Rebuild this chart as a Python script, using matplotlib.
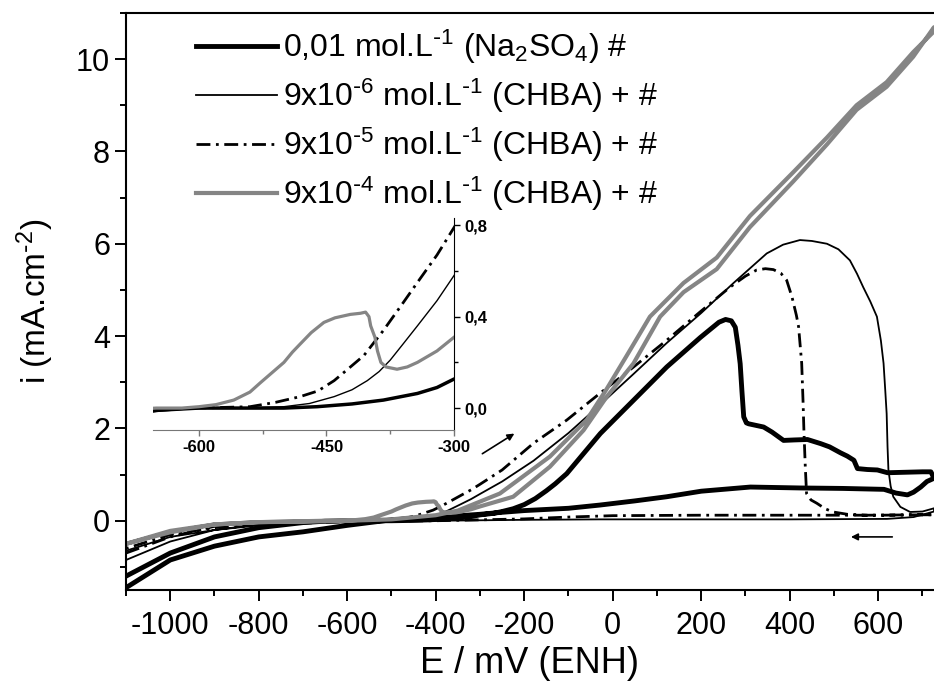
import numpy as np
import matplotlib
matplotlib.use("Agg")
import matplotlib.pyplot as plt
from matplotlib.ticker import MultipleLocator, FixedLocator

plt.rcParams['font.family'] = ['Liberation Sans', 'DejaVu Sans']
plt.rcParams['mathtext.default'] = 'regular'
plt.rcParams['axes.unicode_minus'] = False

# Na2SO4 0,01 mol/L (thick black)
e_na_fwd = [-1100, -1000, -900, -800, -700, -650, -600, -500, -461, -420, -383, -343, -320, -300, -270, -250, -225,
            -200, -175, -150, -130, -104, -28, 47, 122, 198, 240, 255, 268, 277, 283, 288, 292, 296, 302, 307, 341,
            360, 386, 410, 440, 470, 490, 515, 530, 545, 553, 575, 598, 621, 660, 700, 719, 726]
i_na_fwd = [-1.2, -0.7, -0.35, -0.15, -0.04, -0.01, 0.0, 0.0, 0.006, 0.018, 0.035, 0.064, 0.09, 0.127, 0.16, 0.2,
            0.26, 0.35, 0.48, 0.65, 0.8, 1.02, 1.89, 2.61, 3.33, 3.97, 4.3, 4.36, 4.33, 4.19, 3.8, 3.4, 2.8, 2.25,
            2.12, 2.1, 2.03, 1.92, 1.74, 1.75, 1.76, 1.67, 1.6, 1.47, 1.4, 1.31, 1.13, 1.11, 1.10, 1.04, 1.05, 1.06,
            1.06, 0.92]
e_na_rev = [726, 710, 696, 680, 666, 640, 613, 520, 424, 311, 200, 122, 50, -29, -100, -200, -254, -300, -390,
            -500, -600, -700, -800, -900, -1000, -1100]
i_na_rev = [0.92, 0.85, 0.73, 0.62, 0.56, 0.6, 0.68, 0.7, 0.71, 0.73, 0.64, 0.52, 0.43, 0.34, 0.27, 0.22, 0.18, 0.14,
            0.08, 0.02, -0.1, -0.24, -0.35, -0.55, -0.85, -1.45]

# CHBA 9x10^-6 (thin black)
e_6_fwd = [-1100, -1000, -900, -800, -700, -600, -550, -500, -470, -441, -420, -402, -388, -375, -360, -343, -320,
           -300, -250, -179, -100, -30, 47, 122, 200, 273, 348, 385, 423, 450, 484, 510, 536, 552, 566, 582, 597,
           606, 612, 616, 619, 621, 623, 628, 634, 650, 672, 700, 726]
i_6_fwd = [-0.85, -0.45, -0.2, -0.08, -0.03, 0.0, 0.0, 0.006, 0.02, 0.05, 0.08, 0.12, 0.16, 0.21, 0.28, 0.36, 0.47,
           0.58, 0.85, 1.3, 1.9, 2.5, 3.18, 3.85, 4.5, 5.15, 5.79, 5.98, 6.08, 6.06, 6.0, 5.88, 5.64, 5.35, 5.06,
           4.75, 4.42, 3.9, 3.41, 2.8, 2.32, 1.6, 1.10, 0.75, 0.52, 0.30, 0.19, 0.2, 0.27]
e_6_rev = [726, 680, 620, 400, 200, -29, -200, -400, -600, -800, -900, -1000, -1100]
i_6_rev = [0.2, 0.08, 0.04, 0.03, 0.03, 0.03, 0.02, 0.0, -0.02, -0.1, -0.2, -0.35, -0.65]

# CHBA 9x10^-5 (dash-dot)
e_5_fwd = [-1100, -1000, -900, -800, -700, -600, -540, -510, -481, -460, -441, -425, -406, -383, -360, -343, -320,
           -300, -250, -179, -104, -29, 47, 122, 197, 265, 300, 325, 345, 363, 380, 393, 405, 415, 420, 427, 430,
           432, 435, 438, 448, 461, 480, 498, 530, 574, 726]
i_5_fwd = [-0.7, -0.35, -0.12, -0.04, -0.01, 0.0, 0.006, 0.025, 0.05, 0.075, 0.12, 0.17, 0.23, 0.34, 0.46, 0.55,
           0.67, 0.79, 1.1, 1.68, 2.18, 2.76, 3.33, 3.91, 4.52, 5.06, 5.3, 5.43, 5.46, 5.44, 5.36, 5.21, 4.85, 4.45,
           4.2, 3.41, 2.6, 1.96, 1.2, 0.59, 0.45, 0.38, 0.26, 0.19, 0.14, 0.12, 0.13]
e_5_rev = [726, 600, 400, 200, 0, -100, -200, -300, -400, -600, -800, -900, -1000, -1100]
i_5_rev = [0.13, 0.12, 0.12, 0.12, 0.11, 0.08, 0.04, 0.02, 0.0, -0.02, -0.08, -0.15, -0.3, -0.6]

# CHBA 9x10^-4 (grey)
e_4_fwd = [-1100, -1000, -900, -800, -700, -650, -620, -600, -580, -559, -540, -528, -514, -500, -490, -481, -468,
           -453, -440, -422, -410, -404, -400, -398, -393, -390, -386, -380, -367, -355, -343, -320, -300, -225,
           -142, -66, -14, 47, 107, 160, 235, 310, 408, 484, 551, 619, 679, 726]
i_4_fwd = [-0.5, -0.25, -0.08, -0.03, -0.01, 0.0, 0.0, 0.006, 0.015, 0.035, 0.07, 0.11, 0.155, 0.2, 0.245, 0.28,
           0.33, 0.375, 0.395, 0.41, 0.415, 0.42, 0.40, 0.36, 0.31, 0.25, 0.2, 0.18, 0.17, 0.18, 0.2, 0.25, 0.31,
           0.52, 1.17, 1.96, 2.68, 3.41, 4.42, 4.95, 5.45, 6.36, 7.35, 8.15, 8.9, 9.4, 10.05, 10.69]
e_4_rev = [726, 679, 619, 551, 484, 408, 310, 235, 160, 84, 30, -14, -59, -142, -255, -350, -400, -500, -600, -700,
           -800, -900, -1000, -1100]
i_4_rev = [10.6, 10.15, 9.5, 9.0, 8.3, 7.55, 6.6, 5.7, 5.15, 4.42, 3.55, 2.85, 2.18, 1.39, 0.59, 0.22, 0.12, 0.03,
           0.0, -0.02, -0.03, -0.08, -0.22, -0.5]

labels = ['0,01 mol.L$^{\\text{-}1}$ (Na$_2$SO$_4$) #',
          '9x10$^{\\text{-}6}$ mol.L$^{\\text{-}1}$ (CHBA) + #',
          '9x10$^{\\text{-}5}$ mol.L$^{\\text{-}1}$ (CHBA) + #',
          '9x10$^{\\text{-}4}$ mol.L$^{\\text{-}1}$ (CHBA) + #']

dashdot = (0, (5, 2, 1, 2))
grey = '#858585'

fig = plt.figure(figsize=(9.34, 6.85), dpi=100)
ax = fig.add_axes([126 / 934, 1 - 590 / 685, 1 - 126 / 934, (590 - 12.9) / 685])

ax.plot(e_na_fwd + e_na_rev, i_na_fwd + i_na_rev, color='black', lw=3.5, label=labels[0])
ax.plot(e_6_fwd + e_6_rev, i_6_fwd + i_6_rev, color='black', lw=1.3, label=labels[1])
ax.plot(e_5_fwd + e_5_rev, i_5_fwd + i_5_rev, color='black', lw=2, ls=dashdot, label=labels[2])
ax.plot(e_4_fwd + e_4_rev, i_4_fwd + i_4_rev, color=grey, lw=3, label=labels[3])

ax.annotate('', xy=(-217, 1.92), xytext=(-300, 1.42),
            arrowprops=dict(arrowstyle='-|>', color='black', lw=1.2, mutation_scale=10))
ax.annotate('', xy=(532, -0.35), xytext=(638, -0.35),
            arrowprops=dict(arrowstyle='-|>', color='black', lw=1.2, mutation_scale=10))

ax.set_xlim(-1100, 726)
ax.set_ylim(-1.5, 11)
ax.xaxis.set_major_locator(FixedLocator(np.arange(-1000, 700, 200)))
ax.xaxis.set_minor_locator(MultipleLocator(100))
ax.yaxis.set_major_locator(FixedLocator(np.arange(0, 11, 2)))
ax.yaxis.set_minor_locator(MultipleLocator(1))
ax.tick_params(which='major', direction='out', length=8, width=1.4, labelsize=22)
ax.tick_params(which='minor', direction='out', length=4.5, width=1.4)
ax.tick_params(axis='x', which='major', pad=7)
for s in ['left', 'bottom', 'top']:
    ax.spines[s].set_linewidth(1.5)
ax.spines['right'].set_visible(False)
ax.set_xlabel('E / mV (ENH)', fontsize=26, labelpad=4)
ax.set_ylabel('i (mA.cm$^{\\text{-}2}$)', fontsize=24)
ax.yaxis.set_label_coords(-0.087, 0.5)

ax.legend(loc='upper left', bbox_to_anchor=(196 / 934, 1 - 28 / 685), bbox_transform=fig.transFigure,
          frameon=False, borderpad=0, borderaxespad=0, handlelength=2.55, handletextpad=0.16,
          labelspacing=0.33, fontsize=23)

# inset: forward scans only
ins = fig.add_axes([153 / 934, 1 - 430 / 685, 301 / 934, 212 / 685])
ins.plot(e_na_fwd, i_na_fwd, color='black', lw=2.5)
ins.plot(e_6_fwd, i_6_fwd, color='black', lw=1)
ins.plot(e_5_fwd, i_5_fwd, color='black', lw=2, ls=dashdot)
ins.plot(e_4_fwd, i_4_fwd, color=grey, lw=2.3)
ins.set_xlim(-654, -300)
ins.set_ylim(-0.096, 0.832)
ins.patch.set_alpha(0)
ins.spines['left'].set_visible(False)
ins.spines['top'].set_visible(False)
ins.spines['bottom'].set_color('#777777')
ins.yaxis.tick_right()
ins.set_xticks([-600, -450, -300])
ins.set_xticks([-525, -375], minor=True)
ins.set_yticks([0.0, 0.4, 0.8])
ins.set_yticks([0.2, 0.6], minor=True)
ins.set_yticklabels(['0,0', '0,4', '0,8'])
ins.tick_params(which='both', direction='out', width=1, labelsize=12)
ins.tick_params(axis='x', which='both', colors='#777777', labelcolor='black')
ins.tick_params(which='major', length=4)
ins.tick_params(which='minor', length=3)
for lab in ins.get_xticklabels() + ins.get_yticklabels():
    lab.set_fontweight('bold')

fig.savefig('out.png', dpi=100)
